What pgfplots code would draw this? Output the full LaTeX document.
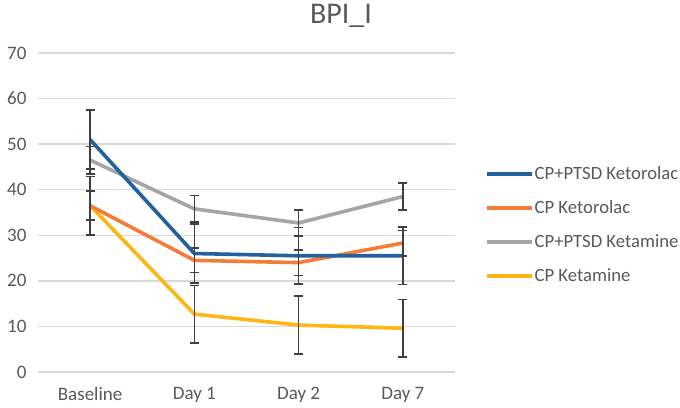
\documentclass[border=0pt]{standalone}
\usepackage{pgfplots}
\pgfplotsset{compat=1.18}
\usepackage{fontspec}
\setmainfont{Carlito}
\definecolor{cblue}{HTML}{22619F}
\definecolor{corange}{HTML}{F37C36}
\definecolor{cgray}{HTML}{A5A5A5}
\definecolor{cyellow}{HTML}{FFB612}
\definecolor{ctext}{HTML}{595959}
\definecolor{cgrid}{HTML}{D9D9D9}
\definecolor{cerr}{HTML}{404040}
\begin{document}
\begin{tikzpicture}[x=1pt,y=1pt]
\path[use as bounding box] (0,0) rectangle (680,407);
\node[font=\fontsize{30}{30}\selectfont, text=ctext] at (341,391) {BPI\_I};
\begin{axis}[
  at={(38pt,35pt)}, anchor=south west,
  scale only axis, width=417pt, height=319pt,
  xmin=-0.5, xmax=3.5, ymin=0, ymax=70,
  xtick={0,1,2,3}, xticklabels={Baseline,Day 1,Day 2,Day 7},
  ytick={0,10,...,70},
  axis line style={draw=none},
  major tick length=0pt,
  ymajorgrids, grid style={cgrid, line width=1.3pt},
  /pgf/number format/assume math mode=true,
  ticklabel style={font=\fontsize{19}{19}\selectfont, text=ctext},
  yticklabel style={xshift=-8pt},
  xticklabel style={yshift=-12pt},
  clip=false,
  legend style={at={(1.072,0.461)}, anchor=west, draw=none, fill=none,
    font=\fontsize{18.7}{18.7}\selectfont, text=ctext, row sep=15.5pt,
    inner sep=0pt, outer sep=0pt,
    nodes={inner xsep=1pt}},
  legend cell align=left,
  legend image code/.code={\draw[#1, line width=3.6pt] (0pt,0pt) -- (45pt,0pt);},
  every axis plot/.append style={line width=3.6pt, mark=none, forget plot,
    error bars/y dir=both, error bars/y explicit,
    error bars/error bar style={cerr, line width=1.5pt},
    error bars/error mark options={cerr, rotate=90, mark size=4.5pt, line width=1.5pt}},
]
\addplot[cgray] coordinates {(0,46.5) +- (0,3) (1,35.8) +- (0,2.9) (2,32.7) +- (0,2.9) (3,38.5) +- (0,3)};
\addplot[cyellow] coordinates {(0,36.5) +- (0,3.2) (1,12.7) +- (0,6.3) (2,10.3) +- (0,6.4) (3,9.6) +- (0,6.3)};
\addplot[corange] coordinates {(0,36.5) +- (0,6.4) (1,24.5) +- (0,2.7) (2,24.0) +- (0,2.8) (3,28.3) +- (0,2.8)};
\addplot[cblue] coordinates {(0,51) +- (0,6.5) (1,26) +- (0,6.5) (2,25.5) +- (0,6.2) (3,25.5) +- (0,6.3)};
\addlegendimage{cblue}
\addlegendentry{CP+PTSD Ketorolac}
\addlegendimage{corange}
\addlegendentry{CP Ketorolac}
\addlegendimage{cgray}
\addlegendentry{CP+PTSD Ketamine}
\addlegendimage{cyellow}
\addlegendentry{CP Ketamine}
\end{axis}
\end{tikzpicture}
\end{document}
